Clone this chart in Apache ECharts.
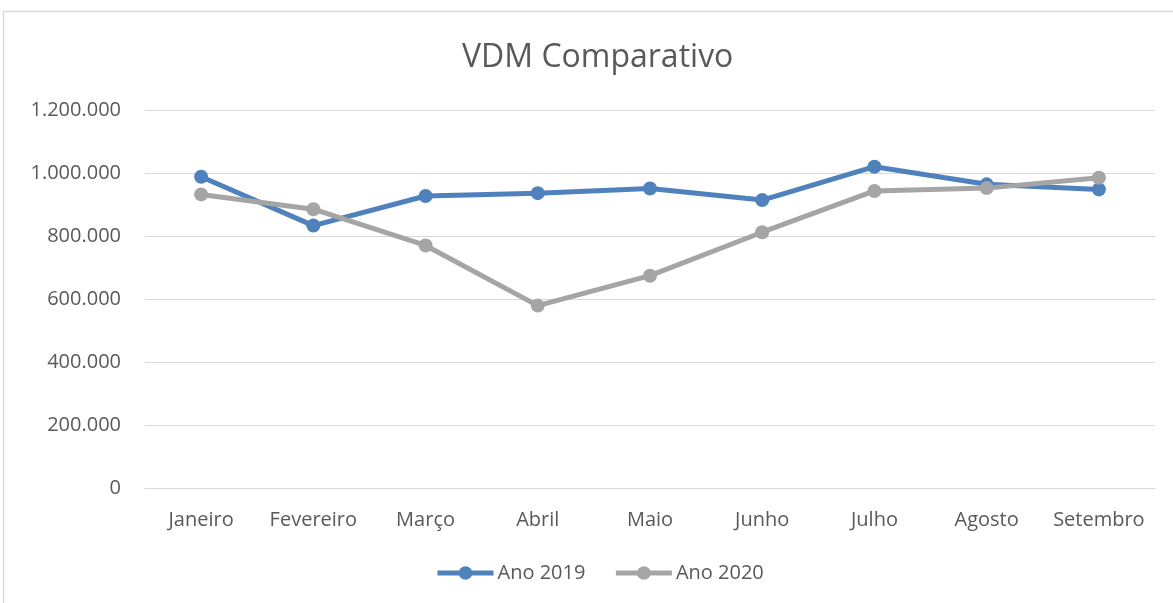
<!DOCTYPE html>
<html>
<head>
<meta charset="utf-8">
<script src="https://cdn.jsdelivr.net/npm/echarts@6/dist/echarts.min.js"></script>
<style>
html, body { margin: 0; padding: 0; background: #fff; }
#container { width: 1173px; height: 603px; }
</style>
</head>
<body>
<div id="container"></div>
<script>
// meses
var categorias = ['Janeiro', 'Fevereiro', 'Março', 'Abril', 'Maio', 'Junho', 'Julho', 'Agosto', 'Setembro'];
// VDM por ano
var ano2019 = [988000, 833000, 927000, 936000, 951000, 914000, 1020000, 964000, 948000];
var ano2020 = [932000, 885000, 770000, 579000, 674000, 812000, 943000, 952000, 985000];

// 1200000 -> 1.200.000
function formatar(v) {
    return String(v).replace(/\B(?=(\d{3})+(?!\d))/g, '.');
}

var dom = document.getElementById("container");
var myChart = echarts.init(dom);
var fonte = '"Open Sans", sans-serif';
var cinza = '#595959';
var option = {
    backgroundColor: '#fff',
    animation: false,
    title: {
        text: 'VDM Comparativo',
        left: 457,
        top: 37,
        textStyle: { color: cinza, fontSize: 32, fontWeight: 'normal', fontFamily: fonte }
    },
    legend: {
        top: 563,
        left: 435,
        padding: 0,
        itemWidth: 56,
        itemHeight: 17,
        itemGap: 28,
        lineStyle: { width: 5 },
        textStyle: { color: cinza, fontSize: 20, fontFamily: fonte, padding: [0, 0, 0, -1] },
        data: ['Ano 2019', 'Ano 2020']
    },
    grid: { left: 145, right: 18, top: 110, bottom: 115 },
    xAxis: {
        type: 'category',
        data: categorias,
        boundaryGap: true,
        axisLine: { lineStyle: { color: '#d9d9d9', width: 1 } },
        axisTick: { show: false },
        axisLabel: { color: cinza, fontSize: 20, fontFamily: fonte, margin: 22, interval: 0, hideOverlap: false }
    },
    yAxis: {
        type: 'value',
        min: 0,
        max: 1200000,
        interval: 200000,
        axisLine: { show: false },
        axisTick: { show: false },
        splitLine: { lineStyle: { color: '#d9d9d9', width: 1 } },
        axisLabel: { color: cinza, fontSize: 20, fontFamily: fonte, margin: 24, formatter: formatar }
    },
    series: [
        {
            name: 'Ano 2019',
            type: 'line',
            data: ano2019,
            symbol: 'circle',
            symbolSize: 14,
            color: '#4f81bd',
            lineStyle: { width: 5, color: '#4f81bd' },
            itemStyle: { color: '#4f81bd' }
        },
        {
            name: 'Ano 2020',
            type: 'line',
            data: ano2020,
            symbol: 'circle',
            symbolSize: 14,
            color: '#a5a5a5',
            lineStyle: { width: 5, color: '#a5a5a5' },
            itemStyle: { color: '#a5a5a5' }
        }
    ],
    // moldura do gráfico (cortada à direita e embaixo)
    graphic: [{
        type: 'rect',
        shape: { x: 3.5, y: 11.5, width: 1300, height: 800 },
        style: { fill: 'none', stroke: '#d9d9d9', lineWidth: 1.5 },
        silent: true
    }]
};
myChart.setOption(option, true);
</script>
</body>
</html>
